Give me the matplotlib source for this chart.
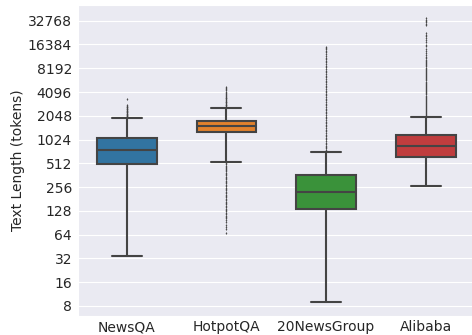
import matplotlib
matplotlib.use("Agg")
import matplotlib.pyplot as plt
import seaborn as sns

# box statistics (tokens)
DATASETS = ["NewsQA", "HotpotQA", "20NewsGroup", "Alibaba"]
Q1 = [498, 1280, 134, 610]
MEDIAN = [755, 1520, 220, 850]
Q3 = [1085, 1770, 365, 1170]
WHIS_LO = [34, 534, 9.1, 267]
WHIS_HI = [1937, 2540, 714, 1990]

FLIERS_NEWSQA = [1950, 1980, 2010, 2040, 2070, 2100, 2140, 2180, 2220, 2260,
                 2300, 2340, 2380, 2420, 2470, 2520, 2570, 2620, 2680, 2740,
                 2800, 3300]
FLIERS_HOTPOT = [2560, 2610, 2660, 2710, 2770, 2830, 2890, 2950, 3020, 3090,
                 3160, 3240, 3320, 3400, 3490, 3580, 3680, 3790, 3900, 4020,
                 4150, 4290, 4450, 4600, 4700,
                 525, 510, 495, 480, 465, 450, 435, 420, 405, 390, 376, 362,
                 348, 335, 322, 310, 298, 286, 275, 264, 253, 243, 233, 224,
                 215, 206, 198, 190, 182, 175, 168, 161, 155, 149, 143, 137,
                 131, 126, 121, 116, 111, 107, 104, 97, 92, 86, 80, 75, 68]
FLIERS_20NG = [730, 760, 790, 820, 860, 900, 940, 980, 1030, 1080, 1130,
               1180, 1240, 1300, 1360, 1430, 1500, 1570, 1650, 1730, 1810,
               1900, 1990, 2090, 2190, 2300, 2410, 2530, 2650, 2780, 2920,
               3060, 3210, 3370, 3540, 3710, 3890, 4080, 4280, 4490, 4710,
               4940, 5180, 5440, 5710, 5990, 6290, 6600, 6920, 7260, 7620,
               8000, 8400, 8800, 9250, 9700, 10200, 10700, 11200, 11800,
               12400, 13000, 13600, 14300, 15000, 15300]
FLIERS_ALIBABA = [2020, 2080, 2140, 2200, 2270, 2340, 2410, 2480, 2560, 2640,
                  2720, 2800, 2890, 2980, 3070, 3170, 3270, 3370, 3480, 3590,
                  3700, 3820, 3940, 4060, 4190, 4320, 4460, 4600, 4750, 4900,
                  5060, 5220, 5390, 5560, 5740, 5920, 6110, 6310, 6510, 6720,
                  6930, 7150, 7380, 7620, 7860, 8110, 8370, 8640, 8920, 9200,
                  9500, 9800, 10100, 10500, 10900, 11400, 12100, 12900, 13500,
                  14400, 15500, 16300, 17500, 18400, 19600, 20800, 21800,
                  22700, 28900, 30000, 31200, 32500, 33800, 35000]
FLIERS = [FLIERS_NEWSQA, FLIERS_HOTPOT, FLIERS_20NG, FLIERS_ALIBABA]

COLORS = ["#3274a1", "#e1812c", "#3a923a", "#c03d3e"]
YTICKS = [8, 16, 32, 64, 128, 256, 512, 1024, 2048, 4096, 8192, 16384, 32768]

sns.set_style("darkgrid")
plt.rcParams["font.family"] = ["DejaVu Sans"]

fig = plt.figure(figsize=(4.72, 3.35), dpi=100)
ax = fig.add_axes([78 / 472, 19.5 / 335, 397.5 / 472, 310.5 / 335])

stats = []
for i, name in enumerate(DATASETS):
    stats.append(dict(label=name, q1=Q1[i], med=MEDIAN[i], q3=Q3[i],
                      whislo=WHIS_LO[i], whishi=WHIS_HI[i], fliers=FLIERS[i]))

edge = "#444444"
bp = ax.bxp(stats, positions=range(len(DATASETS)), widths=0.6,
            patch_artist=True, showfliers=True,
            boxprops=dict(edgecolor=edge, linewidth=1.5),
            medianprops=dict(color=edge, linewidth=1.5),
            whiskerprops=dict(color=edge, linewidth=1.5),
            capprops=dict(color=edge, linewidth=1.5),
            flierprops=dict(marker="d", markersize=1.0, markerfacecolor=edge,
                            markeredgecolor=edge, markeredgewidth=0.3,
                            linestyle="none"))
for patch, c in zip(bp["boxes"], COLORS):
    patch.set_facecolor(c)

ax.set_yscale("log", base=2)
ax.set_yticks(YTICKS)
ax.set_yticklabels([str(t) for t in YTICKS])
ax.minorticks_off()
ax.set_ylim(6.06, 51800)
ax.set_xlim(-0.49, 3.5)
ax.set_xticks(range(len(DATASETS)))
ax.set_xticklabels(DATASETS)
ax.tick_params(axis="y", labelsize=10, length=0, pad=4.3)
ax.tick_params(axis="x", labelsize=10, length=0, pad=3.3)
ax.set_ylabel("Text Length (tokens)", fontsize=10, labelpad=2)
ax.grid(axis="x", visible=False)

fig.savefig("out.png", dpi=100)
